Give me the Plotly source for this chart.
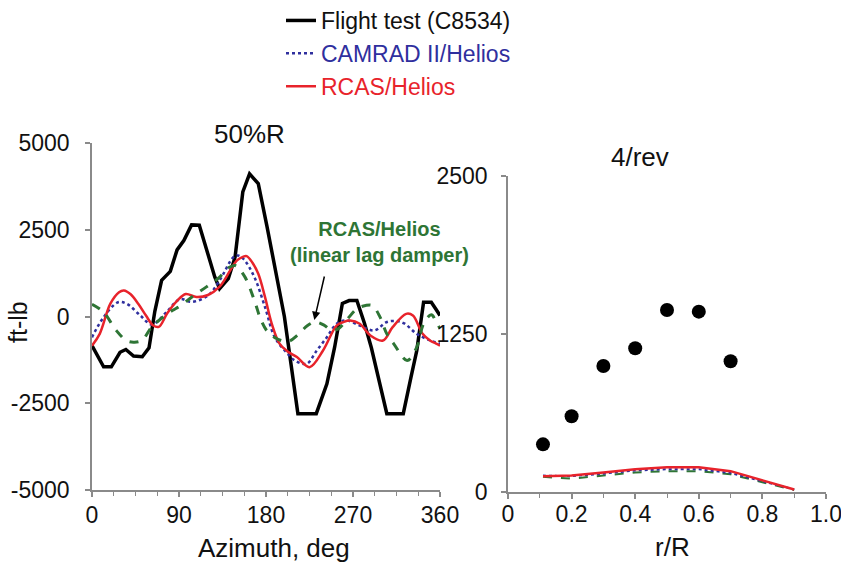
import plotly.graph_objects as go

# ---------------- data: left panel (50%R), azimuth in deg, moment in ft-lb
az_flight = [0, 12, 20, 29, 35, 43, 52, 59, 65, 72, 81, 88, 95, 103, 111, 119, 127, 132, 141, 148,
             156, 163, 172, 181, 190, 199, 206, 213, 222, 232, 243, 251, 259, 266, 274, 282, 289,
             298, 305, 313, 322, 330, 336, 343, 351, 356, 360]
flight = [-840, -1450, -1450, -1030, -950, -1140, -1160, -900, 150, 1040, 1300, 1920, 2190, 2640,
          2630, 1860, 1140, 800, 1090, 1710, 3590, 4110, 3830, 2600, 1300, 0, -1400, -2800, -2800,
          -2800, -1940, -885, 375, 460, 460, -210, -900, -1940, -2800, -2800, -2800, -1750, -980,
          410, 410, 200, 30]

az_camrad = [0, 12, 27, 36, 50, 62, 77, 91, 103, 120, 132, 146, 151, 157, 168, 179, 189, 200, 210,
             222, 232, 243, 253, 263, 277, 292, 305, 315, 323, 336, 350, 360]
camrad = [-600, -20, 410, 365, 30, -230, 125, 500, 420, 606, 1038, 1700, 1760, 1650, 1133, 268,
          -596, -1000, -1270, -1364, -1000, -596, -211, -115, -260, -400, -160, -130, -200, -500,
          -692, -780]

az_rcas = [0, 8, 19, 28, 33, 40, 48, 56, 63, 69, 78, 88, 97, 108, 120, 132, 143, 150, 156, 160,
           166, 172, 179, 186, 194, 202, 212, 225, 239, 253, 260, 267, 277, 288, 301, 311, 325,
           332, 342, 350, 356, 360]
rcas = [-840, -500, 370, 700, 750, 640, 360, 20, -250, -300, 100, 450, 650, 560, 620, 860, 1330,
        1620, 1720, 1740, 1550, 1230, 560, -210, -780, -1000, -1170, -1460, -980, -260, -160, -115,
        -211, -547, -692, -307, 77, 30, -500, -700, -780, -840]

az_linear = [0, 12, 25, 36, 44, 52, 62, 72, 83, 91, 103, 118, 132, 141, 148, 158, 168, 175, 182,
             192, 203, 212, 223, 231, 240, 248, 255, 263, 274, 283, 290, 298, 305, 312, 326, 336,
             343, 351, 356, 360]
linear = [350, 125, -400, -700, -740, -680, -290, -50, 170, 300, 557, 846, 1135, 1400, 1470, 1150,
          461, -115, -450, -650, -720, -550, -260, -160, -250, -400, -350, -115, 220, 317, 317,
          -19, -500, -780, -1268, -884, -211, 50, -150, -350]

az_ticks = [0, 90, 180, 270, 360]
moment_ticks = [-5000, -2500, 0, 2500, 5000]
moment_labels = ["-5000", "-2500", "0", "2500", "5000"]

# ---------------- data: right panel (4/rev) vs r/R
r_flight = [0.11, 0.2, 0.3, 0.4, 0.5, 0.6, 0.7]
amp_flight = [377, 599, 997, 1137, 1440, 1427, 1034]

r_model = [0.11, 0.2, 0.3, 0.4, 0.5, 0.6, 0.7, 0.8, 0.9]
amp_rcas = [125, 130, 155, 180, 195, 195, 165, 95, 20]
amp_camrad = [130, 125, 145, 170, 180, 180, 150, 85, 20]
amp_linear = [120, 105, 130, 155, 165, 165, 140, 80, 15]

r_ticks = [0, 0.2, 0.4, 0.6, 0.8, 1.0]
r_labels = ["0", "0.2", "0.4", "0.6", "0.8", "1.0"]
amp_ticks = [0, 1250, 2500]

# ---------------- layout helpers (pixel positions of the 841x563 page)
W, H = 841, 563


def px(xs):
    return xs / W


def py(ys):
    return 1 - ys / H


# ---------------- styles
BLACK = "#000000"
BLUE = "#2f2f9e"
RED = "#e8232b"
GREEN = "#2e7535"
AXIS = "#8a8a8a"
TXT = "#111111"
FONT = "Liberation Sans, Arial, Helvetica, sans-serif"

fig = go.Figure()

fig.add_trace(go.Scatter(x=az_flight, y=flight, mode="lines", name="Flight test (C8534)",
                         legendgroup="a", line=dict(color=BLACK, width=3.5), xaxis="x", yaxis="y"))
fig.add_trace(go.Scatter(x=az_camrad, y=camrad, mode="lines",
                         name="<span style='color:%s'>CAMRAD II/Helios</span>" % BLUE,
                         legendgroup="b", line=dict(color=BLUE, width=2.5, dash="dot", shape="spline"),
                         xaxis="x", yaxis="y"))
fig.add_trace(go.Scatter(x=az_rcas, y=rcas, mode="lines",
                         name="<span style='color:%s'>RCAS/Helios</span>" % RED,
                         legendgroup="c", line=dict(color=RED, width=2.5, shape="spline"),
                         xaxis="x", yaxis="y"))
fig.add_trace(go.Scatter(x=az_linear, y=linear, mode="lines", showlegend=False,
                         line=dict(color=GREEN, width=3, dash="dash", shape="spline"),
                         xaxis="x", yaxis="y"))

fig.add_trace(go.Scatter(x=r_model, y=amp_linear, mode="lines", showlegend=False,
                         line=dict(color=GREEN, width=2, dash="dash"), xaxis="x2", yaxis="y2"))
fig.add_trace(go.Scatter(x=r_model, y=amp_camrad, mode="lines", showlegend=False,
                         line=dict(color=BLUE, width=2, dash="dot"), xaxis="x2", yaxis="y2"))
fig.add_trace(go.Scatter(x=r_model, y=amp_rcas, mode="lines", showlegend=False,
                         line=dict(color=RED, width=2.5), xaxis="x2", yaxis="y2"))
fig.add_trace(go.Scatter(x=r_flight, y=amp_flight, mode="markers", showlegend=False,
                         marker=dict(color=BLACK, size=14), xaxis="x2", yaxis="y2"))

axis_common = dict(showgrid=False, zeroline=False, showline=True, linecolor=AXIS, linewidth=1.5,
                   ticks="outside", ticklen=5, tickcolor=AXIS, tickwidth=1.5, automargin=False,
                   ticklabeloverflow="allow",
                   tickfont=dict(family=FONT, size=23, color=TXT))
minor_common = dict(ticks="outside", ticklen=4, tickcolor=AXIS, tickwidth=1.2, showgrid=False)

fig.update_layout(
    template="none",
    width=W, height=H,
    margin=dict(l=0, r=0, t=0, b=0, autoexpand=False),
    paper_bgcolor="white", plot_bgcolor="white",
    font=dict(family=FONT, color=TXT),
    xaxis=dict(domain=[px(92), px(440)], range=[0, 360], tickvals=az_ticks,
               minor=dict(dtick=22.5, tick0=0, **minor_common), ticklabelstandoff=-1,
               anchor="y", **axis_common),
    yaxis=dict(domain=[py(490), py(143)], range=[-5000, 5000],
               tickvals=moment_ticks, ticktext=moment_labels, ticklabelstandoff=11,
               anchor="x", **axis_common),
    xaxis2=dict(domain=[px(508), px(826)], range=[0, 1.0],
                tickvals=r_ticks, ticktext=r_labels, ticklabelstandoff=-4,
                minor=dict(dtick=0.1, tick0=0, **minor_common),
                anchor="y2", **axis_common),
    yaxis2=dict(domain=[py(492), py(176)], range=[0, 2500],
                tickvals=amp_ticks, ticklabelstandoff=9, anchor="x2", **axis_common),
    showlegend=True,
    legend=dict(x=px(281), y=py(-1), xanchor="left", yanchor="top",
                xref="paper", yref="paper",
                font=dict(family=FONT, size=23, color=TXT),
                bgcolor="rgba(0,0,0,0)", borderwidth=0, tracegroupgap=0, itemwidth=30),
)

ann_font = dict(family=FONT, size=26, color=TXT)
center = dict(xref="paper", yref="paper", showarrow=False, xanchor="center", yanchor="middle")
fig.add_annotation(text="50%R", x=px(249), y=py(134), font=ann_font, **center)
fig.add_annotation(text="4/rev", x=px(640), y=py(157), font=ann_font, **center)
fig.add_annotation(text="Azimuth, deg", x=px(274), y=py(548), font=ann_font, **center)
fig.add_annotation(text="r/R", x=px(672), y=py(547), font=ann_font, **center)
fig.add_annotation(text="ft-lb", x=px(18), y=py(322), font=dict(family=FONT, size=25, color=TXT),
                   textangle=-90, **center)

fig.add_annotation(text="<b>RCAS/Helios<br>(linear lag damper)</b>", x=px(379), y=py(242),
                   font=dict(family=FONT, size=20, color=GREEN), **center)
fig.add_annotation(text=" ", x=230, y=-100, xref="x", yref="y", showarrow=True,
                   ax=12, ay=-52, arrowhead=2, arrowsize=1.1, arrowwidth=1.5, arrowcolor=BLACK,
                   standoff=0)

# place the figure at the page origin so the 841x563 window shows it exactly
fig.write_html("out.html", config={"displayModeBar": False},
               post_script="document.body.style.margin='0px';document.body.style.overflow='hidden';")
